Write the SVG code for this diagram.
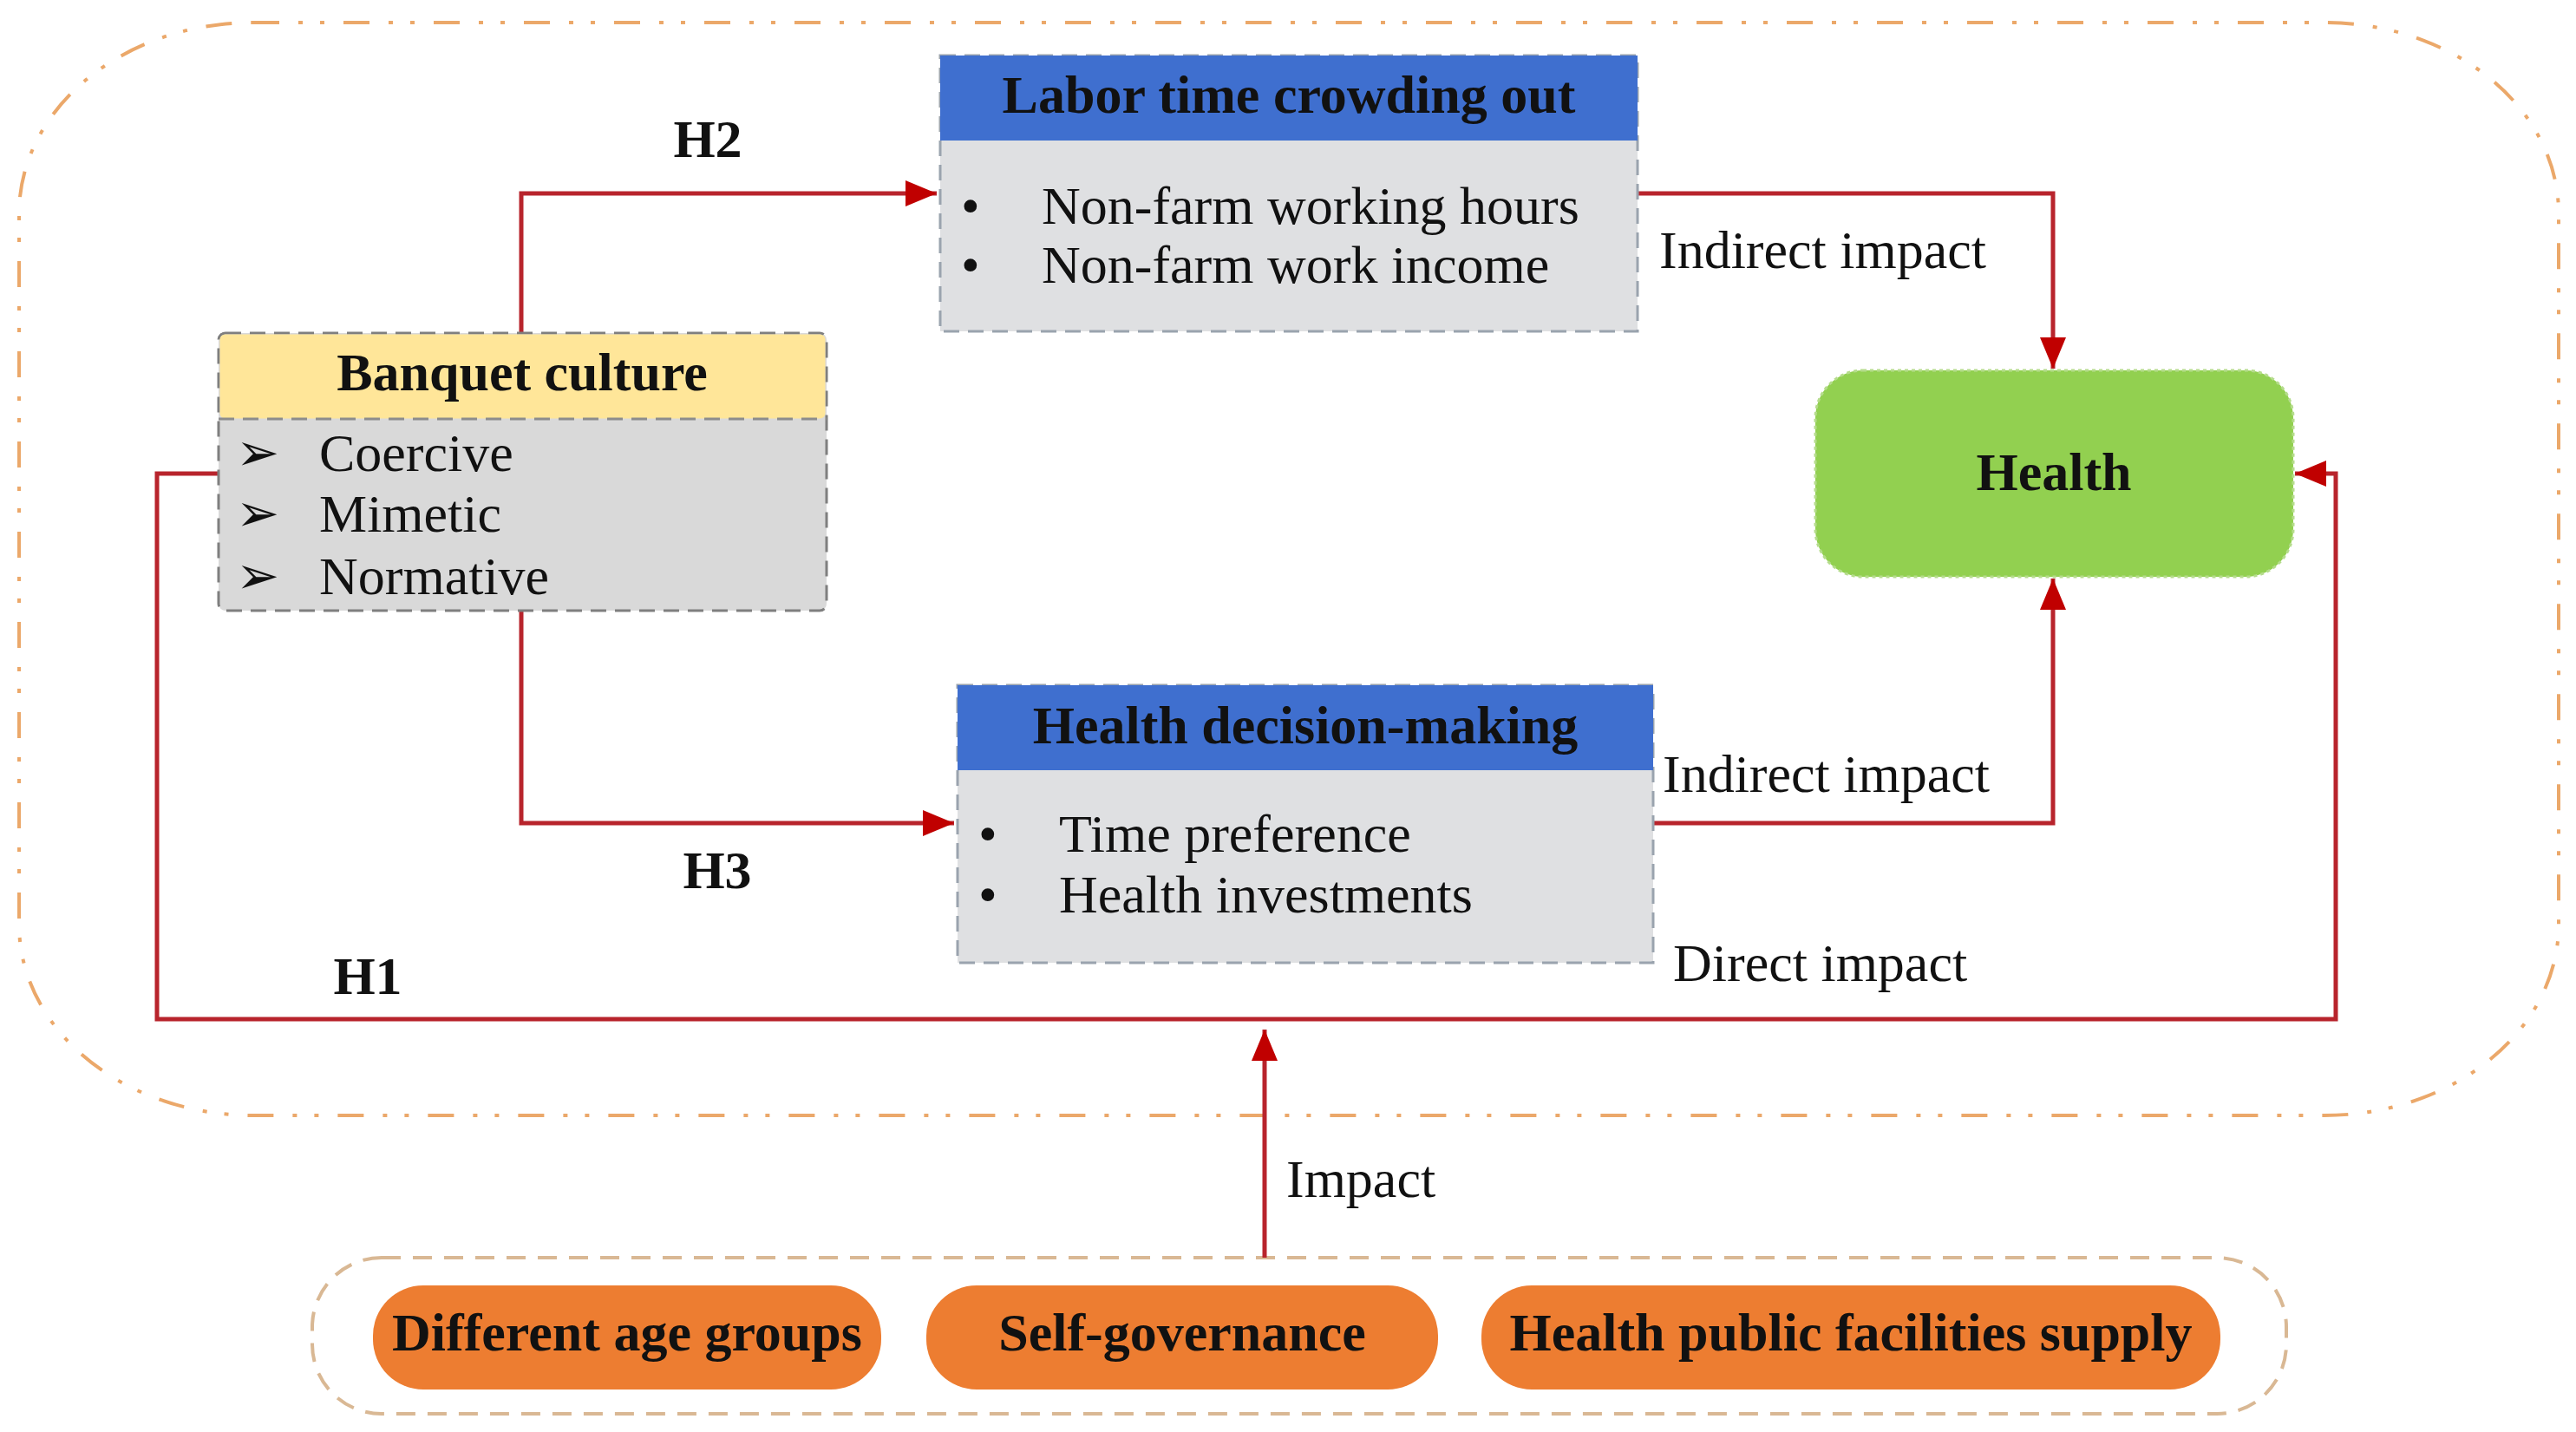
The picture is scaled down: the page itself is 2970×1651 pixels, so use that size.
<svg xmlns="http://www.w3.org/2000/svg" width="2970" height="1651" viewBox="0 0 2970 1651">
<style>
  text { font-family: "Liberation Serif", "Times New Roman", serif; fill: #111; }
  .t { font-size: 62px; }
  .b { font-size: 62px; font-weight: bold; }
  .c { text-anchor: middle; }
  .conn { fill: none; stroke: #B8242C; stroke-width: 5; }
  .hdrBlue { fill: #3F6FCF; }
  .bodyGray { fill: #DFE0E2; stroke: #9AA3AE; stroke-width: 3; stroke-dasharray: 18 10; }
  .pill { fill: #ED7D31; }
  .sym { font-family: "DejaVu Sans", sans-serif; font-size: 60px; }
</style>
<defs>
  <marker id="arr" markerUnits="userSpaceOnUse" markerWidth="40" markerHeight="32" refX="36" refY="15" orient="auto">
    <path d="M0,0 L36,15 L0,30 z" fill="#C00000"/>
  </marker>
</defs>

<rect width="2970" height="1651" fill="#FFFFFF"/>

<!-- outer dash-dot boundary -->
<rect x="22" y="26" width="2928" height="1260" rx="270" ry="220" fill="none" stroke="#EBA86A" stroke-width="4" stroke-dasharray="30 22 5 20 5 22"/>

<!-- bottom group boundary -->
<rect x="360" y="1450" width="2276" height="180" rx="80" ry="80" fill="none" stroke="#D9B894" stroke-width="4" stroke-dasharray="22 14"/>

<g id="connectors">
  <!-- H2 -->
  <polyline class="conn" points="601,384 601,223 1080,223" marker-end="url(#arr)"/>
  <!-- H3 -->
  <polyline class="conn" points="601,705 601,949 1100,949" marker-end="url(#arr)"/>
  <!-- Labor -> Health -->
  <polyline class="conn" points="1888,223 2367,223 2367,425" marker-end="url(#arr)"/>
  <!-- HDM -> Health -->
  <polyline class="conn" points="1907,949 2367,949 2367,667" marker-end="url(#arr)"/>
  <!-- H1 direct -->
  <polyline class="conn" points="252,546 181,546 181,1175 2693,1175 2693,546 2646,546" marker-end="url(#arr)"/>
  <!-- Impact -->
  <line class="conn" x1="1458" y1="1450" x2="1458" y2="1187" stroke-width="4" marker-end="url(#arr)"/>
</g>

<!-- connector labels -->
<text class="b c" x="816" y="181">H2</text>
<text class="b c" x="827" y="1024">H3</text>
<text class="b c" x="424" y="1146">H1</text>
<text class="t" x="1913" y="309">Indirect impact</text>
<text class="t" x="1917" y="913">Indirect impact</text>
<text class="t" x="1929" y="1131">Direct impact</text>
<text class="t" x="1483" y="1380">Impact</text>

<g id="banquet">
  <rect x="252" y="384" width="701" height="320" rx="8" fill="#D9D9D9" stroke="#7F7F7F" stroke-width="3" stroke-dasharray="18 10"/>
  <rect x="253.5" y="385.5" width="698" height="97" rx="6" fill="#FFE699"/>
  <line x1="252" y1="483" x2="953" y2="483" stroke="#8C8C8C" stroke-width="3" stroke-dasharray="18 10"/>
  <text class="b c" x="602" y="450">Banquet culture</text>
  <text class="sym" x="272" y="542">➢</text>
  <text class="t" x="368" y="543">Coercive</text>
  <text class="sym" x="272" y="612">➢</text>
  <text class="t" x="368" y="613">Mimetic</text>
  <text class="sym" x="272" y="684">➢</text>
  <text class="t" x="368" y="685">Normative</text>
</g>

<g id="labor">
  <rect class="bodyGray" x="1084" y="64" width="804" height="318"/>
  <rect class="hdrBlue" x="1084" y="64" width="804" height="98"/>
  <text class="b c" x="1486" y="130">Labor time crowding out</text>
  <text class="t" x="1108" y="258">•</text>
  <text class="t" x="1201" y="258">Non-farm working hours</text>
  <text class="t" x="1108" y="326">•</text>
  <text class="t" x="1201" y="326">Non-farm work income</text>
</g>

<g id="health-decision">
  <rect class="bodyGray" x="1104" y="790" width="802" height="320"/>
  <rect class="hdrBlue" x="1104" y="790" width="802" height="98"/>
  <text class="b c" x="1505" y="857">Health decision-making</text>
  <text class="t" x="1128" y="982">•</text>
  <text class="t" x="1221" y="982">Time preference</text>
  <text class="t" x="1128" y="1052">•</text>
  <text class="t" x="1221" y="1052">Health investments</text>
</g>

<g id="health">
  <rect x="2093" y="427" width="551" height="238" rx="55" ry="55" fill="#92D050" stroke="#B5DC8C" stroke-width="3" stroke-dasharray="4 4"/>
  <text class="b c" x="2368" y="565">Health</text>
</g>

<g id="age-groups">
  <rect class="pill" x="430" y="1482" width="586" height="120" rx="58" ry="58"/>
  <text class="b c" x="723" y="1557">Different age groups</text>
</g>
<g id="self-governance">
  <rect class="pill" x="1068" y="1482" width="590" height="120" rx="58" ry="58"/>
  <text class="b c" x="1363" y="1557">Self-governance</text>
</g>
<g id="public-facilities">
  <rect class="pill" x="1708" y="1482" width="852" height="120" rx="58" ry="58"/>
  <text class="b c" x="2134" y="1557">Health public facilities supply</text>
</g>
</svg>
